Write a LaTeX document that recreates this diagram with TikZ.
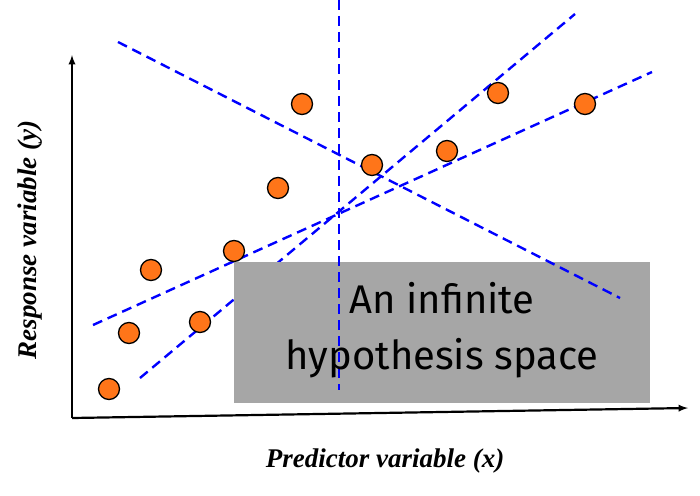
\documentclass[tikz,border=0pt]{standalone}
\usepackage{fontspec}
\newfontfamily\handfont{Fira Sans}
\newfontfamily\labfont{Liberation Serif}
\begin{document}
\begin{tikzpicture}[x=1pt,y=-1pt]
        \tikzstyle{datapt}=[circle, draw, line width=1.3pt, fill=orange!80!red!90, inner sep=0pt, minimum size=21pt]
        \tikzstyle{hypo}=[blue, line width=2.4pt, dash pattern=on 10pt off 6pt]
        \useasboundingbox (0,0) rectangle (700,495);
        \coordinate (O) at (72,418);
        \coordinate (Ytop) at (72,55);
        \coordinate (Xend) at (688,408);
        \draw[line width=2.2pt,-latex] (O) -- (Ytop);
        \draw[line width=2.2pt,-latex] (O) -- (Xend);
        \draw[hypo] (93,325) -- (652,72);
        \draw[hypo] (140,378) -- (575,14);
        \fill[black!35] (234,262) rectangle (650,403);
        \draw[hypo] (118,42) -- (620,298);
        \draw[hypo] (339,0) -- (339,390);
        \foreach \x/\y [count=\i] in {109/389,129/333,151/270,200/322,234/251,278/188,302/104,372/165,447/151,498/93,585/104}
            \node[datapt] (p\i) at (\x,\y) {};
        \node[align=center, font=\handfont\fontsize{40}{56}\selectfont] (space) at (442,330) {An infinite\\hypothesis space};
        \node[font=\labfont\bfseries\itshape\fontsize{27}{30}\selectfont] (xlab) at (385,461) {Predictor variable (x)};
        \node[rotate=90, font=\labfont\bfseries\itshape\fontsize{27}{30}\selectfont] (ylab) at (30,240) {Response variable (y)};
      \end{tikzpicture}
\end{document}
